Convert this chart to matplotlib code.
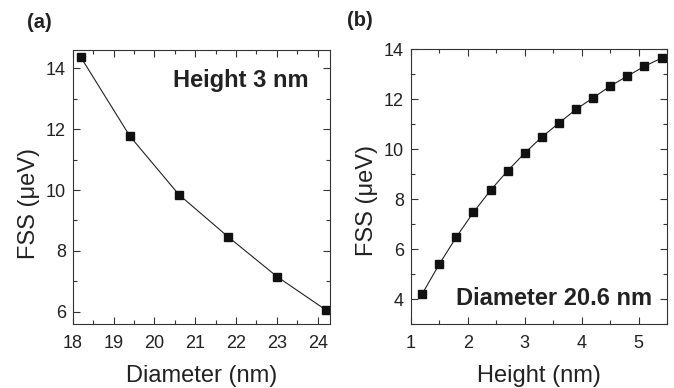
import matplotlib
matplotlib.use("Agg")
import matplotlib.pyplot as plt
from matplotlib.ticker import MultipleLocator

plt.rcParams['font.family'] = ['Liberation Sans', 'DejaVu Sans']

diameter = [18.2, 19.4, 20.6, 21.8, 23.0, 24.2]
fss_a = [14.36, 11.77, 9.85, 8.47, 7.16, 6.06]

height = [1.2, 1.5, 1.8, 2.1, 2.4, 2.7, 3.0, 3.3, 3.6, 3.9, 4.2, 4.5, 4.8, 5.1, 5.4]
fss_b = [4.21, 5.40, 6.49, 7.48, 8.36, 9.14, 9.85, 10.49, 11.05, 11.60,
         12.06, 12.53, 12.93, 13.32, 13.65]

W, H = 674, 388
fig = plt.figure(figsize=(W/100, H/100), dpi=100)

def px_axes(l, t, r, b):
    return fig.add_axes([l/W, 1 - b/H, (r-l)/W, (b-t)/H])

def style(ax):
    ax.tick_params(which='both', direction='in', top=True, right=True, labelsize=13,
                   width=0.8, color='#333333', labelcolor='#222222')
    ax.tick_params(axis='x', which='both', pad=8)
    ax.tick_params(axis='y', which='both', pad=5)
    ax.tick_params(which='major', length=5)
    ax.tick_params(which='minor', length=3)
    for s in ax.spines.values():
        s.set_linewidth(0.8)
        s.set_color('#333333')

ax1 = px_axes(72.7, 50, 330, 324)
ax1.plot(diameter, fss_a, '-', color='#222222', lw=0.8, marker='s', ms=5.5, mfc='#111111', mec='#111111')
ax1.set_xlim(18, 24.3)
ax1.set_ylim(5.6, 14.6)
ax1.xaxis.set_major_locator(MultipleLocator(1))
ax1.xaxis.set_minor_locator(MultipleLocator(0.5))
ax1.yaxis.set_major_locator(MultipleLocator(2))
ax1.yaxis.set_minor_locator(MultipleLocator(1))
style(ax1)
ax1.set_xlabel('Diameter (nm)', fontsize=17, labelpad=9, color='#222222')
ax1.set_ylabel('FSS (μeV)', fontsize=17, labelpad=4, color='#222222')
ax1.yaxis.label.set_y(0.44)
ax1.text(0.915, 0.89, 'Height 3 nm', transform=ax1.transAxes, ha='right', va='center',
         fontsize=17, fontweight='bold', color='#222222')

ax2 = px_axes(410.7, 49.3, 667.3, 324.3)
ax2.plot(height, fss_b, '-', color='#222222', lw=0.8, marker='s', ms=5.5, mfc='#111111', mec='#111111')
ax2.set_xlim(1, 5.5)
ax2.set_ylim(3, 14)
ax2.xaxis.set_major_locator(MultipleLocator(1))
ax2.xaxis.set_minor_locator(MultipleLocator(0.5))
ax2.yaxis.set_major_locator(MultipleLocator(2))
ax2.yaxis.set_minor_locator(MultipleLocator(1))
style(ax2)
ax2.set_xlabel('Height (nm)', fontsize=17, labelpad=9, color='#222222')
ax2.set_ylabel('FSS (μeV)', fontsize=17, labelpad=4, color='#222222')
ax2.yaxis.label.set_y(0.45)
ax2.text(0.94, 0.095, 'Diameter 20.6 nm', transform=ax2.transAxes, ha='right', va='center',
         fontsize=17, fontweight='bold', color='#222222')

fig.text(27/W, 1 - 23/H, '(a)', fontsize=14.5, fontweight='bold', ha='left', va='center', color='#222222')
fig.text(347/W, 1 - 21/H, '(b)', fontsize=14.5, fontweight='bold', ha='left', va='center', color='#222222')

fig.savefig('out.png', dpi=100)
